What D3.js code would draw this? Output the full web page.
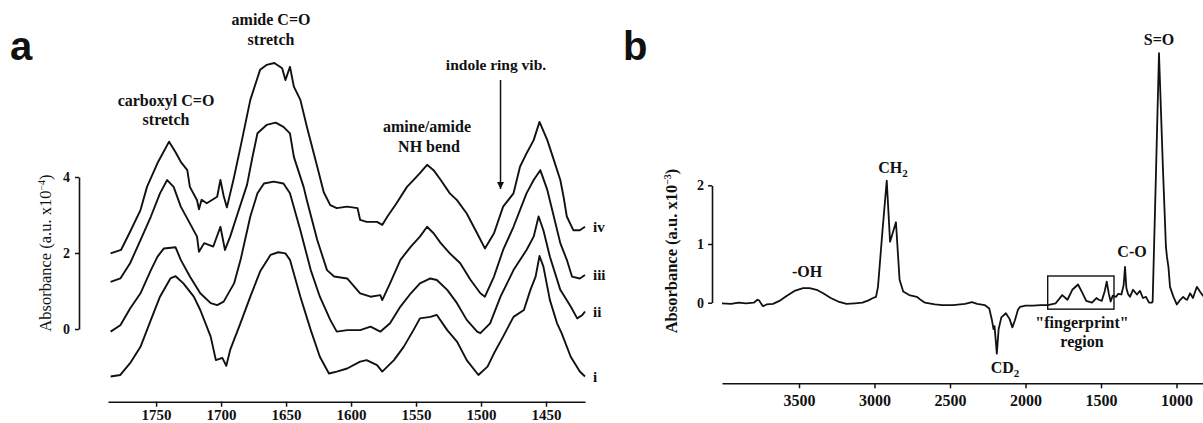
<!DOCTYPE html>
<html>
<head>
<meta charset="utf-8">
<script src="https://cdn.jsdelivr.net/npm/d3@7"></script>
<style>
body { margin: 0; background: #fff; }
svg text { font-family: "Liberation Serif", "Times New Roman", serif; fill: #111; }
</style>
</head>
<body>
<script>
// ---- panel a : four stacked spectra, [wavenumber, absorbance x1e-4 incl. offset]
var traceI = [[1785,-1.25],[1777.5,-1.21],[1770,-0.9],[1762,-0.47],[1754,0.24],[1747,0.85],[1739,1.33],[1735,1.39],[1729,1.2],[1721,0.85],[1716,0.5],[1708,-0.2],[1704,-0.82],[1699,-0.76],[1696,-0.97],[1693,-0.55],[1685,0.16],[1677.5,0.85],[1670,1.51],[1662,1.95],[1656,2.02],[1650.5,1.99],[1647,1.82],[1639,0.85],[1631,-0.03],[1624,-0.73],[1617,-1.17],[1611,-1.12],[1603,-1.04],[1593,-0.86],[1588,-0.82],[1580,-0.95],[1576,-1.12],[1567,-0.82],[1559.5,-0.47],[1552,-0.03],[1547,0.28],[1539,0.32],[1534,0.37],[1526,-0.03],[1518.5,-0.33],[1511,-0.82],[1502,-1.21],[1495,-0.99],[1490,-0.64],[1483,-0.2],[1475,0.32],[1467,0.5],[1462,1.03],[1458,1.38],[1455,1.92],[1452,1.64],[1447,0.76],[1441.5,0.15],[1438,-0.11],[1431,-0.73],[1424,-1.12],[1420,-1.25]];
var traceII = [[1785,-0.07],[1777.5,0.1],[1770,0.54],[1762,0.94],[1754,1.55],[1749,1.9],[1744,2.12],[1735,2.15],[1731,1.82],[1724,1.38],[1716,0.94],[1708,0.68],[1703,0.63],[1698,0.72],[1690,1.2],[1685,1.82],[1677.5,2.96],[1672,3.57],[1667,3.83],[1659.5,3.88],[1652,3.83],[1647,3.57],[1639,2.6],[1631,1.55],[1624,0.85],[1616,0.24],[1611,-0.07],[1603,-0.03],[1593,-0.03],[1585,0.06],[1577.5,-0.07],[1570,0.15],[1562,0.59],[1554,0.94],[1547,1.2],[1539,1.33],[1534,1.29],[1526,1.03],[1518.5,0.68],[1511,0.24],[1503,-0.07],[1500.5,-0.11],[1493,0.15],[1485,0.85],[1475,1.55],[1465,2.08],[1459.5,2.43],[1455.7,2.96],[1452,2.6],[1447,1.9],[1439,1.03],[1431,0.59],[1426,0.28],[1422,0.37],[1420,0.46]];
var traceIII = [[1785,1.24],[1777.5,1.33],[1770,1.73],[1762,2.34],[1754,2.96],[1747,3.57],[1741.5,3.92],[1736.5,3.74],[1731,3.22],[1724,2.78],[1718.5,2.43],[1717,2.03],[1713,2.26],[1706,2.17],[1700.5,2.69],[1697,2.08],[1693,2.43],[1688,2.96],[1680,3.8],[1676,4.5],[1672,5.15],[1665,5.37],[1658,5.43],[1652,5.32],[1647,5.15],[1644,4.53],[1636.5,3.74],[1634,3.39],[1626,2.34],[1618.5,1.55],[1613,1.38],[1603,1.33],[1593,0.94],[1585,0.85],[1577.5,0.89],[1576,0.76],[1570,1.2],[1562,1.82],[1554,2.17],[1547,2.43],[1541.5,2.69],[1536.5,2.52],[1531,2.26],[1524,1.99],[1516,1.73],[1508,1.29],[1500.5,0.94],[1497,0.85],[1490,1.38],[1483,2.08],[1475,2.69],[1465,3.57],[1459.5,3.92],[1454.4,4.18],[1449,3.66],[1444,2.96],[1439,2.26],[1434,1.82],[1430,1.38],[1424,1.33],[1420,1.42]];
var traceIV = [[1785,1.99],[1777,2.08],[1770,2.56],[1762,3.13],[1757,3.74],[1749,4.36],[1740,4.93],[1735,4.65],[1731,4.4],[1726,4.18],[1724,3.74],[1718.5,3.39],[1717,3.15],[1715,3.4],[1711,3.31],[1703,3.48],[1700.5,3.92],[1698,3.5],[1695.5,3.2],[1690,4.0],[1685,4.8],[1677.5,6.03],[1670,6.82],[1665,6.95],[1659,7.0],[1653,6.86],[1650.5,6.55],[1647,6.9],[1644,6.38],[1639,6.03],[1634,5.32],[1626,4.27],[1621,3.6],[1616,3.26],[1611,3.18],[1603,3.22],[1595,3.18],[1593,2.87],[1588,2.82],[1580,2.82],[1576,2.74],[1572,2.96],[1565,3.31],[1557,3.74],[1552,3.92],[1547,4.1],[1541.5,4.32],[1536.5,4.18],[1531,3.92],[1524,3.57],[1518.5,3.39],[1511,3.04],[1503,2.52],[1497,2.12],[1490,2.52],[1483,3.22],[1475,3.57],[1470,4.27],[1465,4.62],[1459.5,4.97],[1455,5.45],[1449,4.97],[1444,4.45],[1439,3.92],[1436.5,3.48],[1434,2.96],[1429,2.6],[1424,2.6],[1420,2.69]];
var traceNames = ["i", "ii", "iii", "iv"];
var ticksAx = [1750, 1700, 1650, 1600, 1550, 1500, 1450];
var ticksAy = [0, 2, 4];

// ---- panel b : single spectrum, [wavenumber, absorbance x1e-3]
var specB = [[4010,-0.01],[3950,-0.02],[3900,0.0],[3850,-0.01],[3800,0.0],[3775,0.05],[3765,0.04],[3750,-0.02],[3738,-0.06],[3715,-0.03],[3672,-0.02],[3630,0.03],[3580,0.12],[3530,0.2],[3473,0.25],[3430,0.25],[3383,0.22],[3340,0.16],[3290,0.08],[3240,0.02],[3185,-0.02],[3130,-0.01],[3080,0.0],[3040,0.04],[3010,0.08],[2990,0.1],[2977,0.27],[2948,1.2],[2919,2.08],[2897,1.04],[2858,1.37],[2834,0.39],[2810,0.19],[2770,0.13],[2720,0.1],[2690,0.04],[2666,0.0],[2600,-0.03],[2550,-0.04],[2480,-0.04],[2400,-0.02],[2355,0.01],[2320,-0.02],[2270,-0.04],[2240,-0.1],[2222,-0.3],[2212,-0.45],[2205,-0.4],[2190,-0.87],[2178,-0.45],[2160,-0.25],[2130,-0.18],[2105,-0.28],[2087,-0.42],[2070,-0.3],[2050,-0.12],[2036,-0.07],[2000,-0.05],[1950,-0.05],[1900,-0.04],[1853,-0.04],[1800,-0.01],[1757,0.13],[1722,0.05],[1690,0.22],[1652,0.31],[1620,0.15],[1598,0.03],[1560,0.0],[1530,0.08],[1515,0.05],[1495,0.03],[1475,0.2],[1462,0.36],[1448,0.15],[1436,0.02],[1422,0.12],[1400,0.1],[1387,0.15],[1365,0.14],[1350,0.3],[1341,0.61],[1332,0.25],[1321,0.15],[1308,0.1],[1288,0.22],[1262,0.14],[1242,0.2],[1222,0.08],[1202,0.1],[1182,0.0],[1162,0.0],[1158,0.02],[1136,2.2],[1116,4.25],[1090,2.3],[1070,0.95],[1063,0.78],[1053,0.6],[1043,0.27],[1020,0.1],[998,-0.03],[975,0.05],[956,0.1],[940,0.06],[930,0.05],[910,0.16],[891,0.08],[875,0.2],[865,0.27],[845,0.19],[825,0.12],[805,0.1]];
var fingerprintBox = {from: 1853, to: 1414, top: 0.455, bottom: -0.11};
var ticksBx = [3500, 3000, 2500, 2000, 1500, 1000];
var ticksBy = [0, 1, 2];

var svg = d3.select("body").append("svg")
    .attr("width", 1203)
    .attr("height", 423);

// ===== panel a =====
var xA = d3.scaleLinear().domain([1787, 1420]).range([108, 585]);
var yA = d3.scaleLinear().domain([0, 4]).range([329, 177]);

var lineA = d3.line()
    .x(function (d) { return xA(d[0]); })
    .y(function (d) { return yA(d[1]); });

var tracesA = [traceI, traceII, traceIII, traceIV];
svg.append("g").selectAll("path")
    .data(tracesA)
    .enter()
    .append("path")
    .attr("d", lineA)
    .attr("fill", "none")
    .attr("stroke", "#111")
    .attr("stroke-width", 1.9)
    .attr("stroke-linejoin", "round");

// labels i..iv at the right end of each trace
svg.append("g").selectAll("text")
    .data(tracesA)
    .enter()
    .append("text")
    .attr("x", function (d) { return xA(d[d.length - 1][0]) + 8; })
    .attr("y", function (d) { return yA(d[d.length - 1][1]) + 5; })
    .attr("font-size", 15)
    .attr("font-weight", "bold")
    .text(function (d, i) { return traceNames[i]; });

var axAx = svg.append("g")
    .attr("transform", "translate(0,401.7)")
    .call(d3.axisBottom(xA).tickValues(ticksAx).tickFormat(d3.format("d"))
        .tickSize(5).tickSizeOuter(0).tickPadding(3));
var axAy = svg.append("g")
    .attr("transform", "translate(79,0)")
    .call(d3.axisLeft(yA).tickValues(ticksAy).tickFormat(d3.format("d"))
        .tickSize(4).tickSizeOuter(0).tickPadding(5));

// ===== panel b =====
var xB = d3.scaleLinear().domain([4010, 800]).range([722, 1206.7]);
var yB = d3.scaleLinear().domain([0, 2]).range([302.7, 185.3]);

var lineB = d3.line()
    .x(function (d) { return xB(d[0]); })
    .y(function (d) { return yB(d[1]); });

svg.append("path")
    .datum(specB)
    .attr("d", lineB)
    .attr("fill", "none")
    .attr("stroke", "#111")
    .attr("stroke-width", 1.8)
    .attr("stroke-linejoin", "round");

svg.append("rect")
    .attr("x", xB(fingerprintBox.from))
    .attr("y", yB(fingerprintBox.top))
    .attr("width", xB(fingerprintBox.to) - xB(fingerprintBox.from))
    .attr("height", yB(fingerprintBox.bottom) - yB(fingerprintBox.top))
    .attr("fill", "none")
    .attr("stroke", "#111")
    .attr("stroke-width", 1.4);

var axBx = svg.append("g")
    .attr("transform", "translate(0,383.3)")
    .call(d3.axisBottom(xB).tickValues(ticksBx).tickFormat(d3.format("d"))
        .tickSize(5).tickSizeOuter(0).tickPadding(6));
var axBy = svg.append("g")
    .attr("transform", "translate(712,0)")
    .call(d3.axisLeft(yB).tickValues(ticksBy).tickFormat(d3.format("d"))
        .tickSize(4).tickSizeOuter(0).tickPadding(4));

// axis styling
[axAx, axAy, axBx, axBy].forEach(function (g) {
    g.select(".domain").attr("stroke", "#111").attr("stroke-width", 1.6);
    g.selectAll(".tick line").attr("stroke", "#111").attr("stroke-width", 1.5);
    g.selectAll(".tick text")
        .attr("font-family", "Liberation Serif, Times New Roman, serif")
        .attr("font-weight", "bold")
        .attr("fill", "#111");
});
axAx.selectAll(".tick text").attr("font-size", 15);
axAy.selectAll(".tick text").attr("font-size", 14);
axBx.selectAll(".tick text").attr("font-size", 16);
axBy.selectAll(".tick text").attr("font-size", 14);

// y axis titles with superscript
function yTitle(x, y, exp, weight) {
    var t = svg.append("text")
        .attr("transform", "translate(" + x + "," + y + ") rotate(-90)")
        .attr("text-anchor", "middle")
        .attr("font-size", 16.5)
        .attr("font-weight", weight);
    t.append("tspan").text("Absorbance (a.u. x10");
    t.append("tspan").attr("dy", -6).attr("font-size", 10).text(exp);
    t.append("tspan").attr("dy", 6).text(")");
}
yTitle(51, 253, "\u22124", "normal");
yTitle(677, 251, "\u22123", "bold");

// panel letters
svg.append("text").attr("x", 10).attr("y", 60)
    .attr("font-size", 40).attr("font-weight", "bold")
    .style("font-family", "Liberation Sans, Arial, sans-serif")
    .text("a");
svg.append("text").attr("x", 623).attr("y", 60)
    .attr("font-size", 40).attr("font-weight", "bold")
    .style("font-family", "Liberation Sans, Arial, sans-serif")
    .text("b");

// annotations
function note(x, y, txt, size) {
    return svg.append("text")
        .attr("x", x).attr("y", y)
        .attr("text-anchor", "middle")
        .attr("font-size", size)
        .attr("font-weight", "bold")
        .text(txt);
}
note(166, 106, "carboxyl C=O", 16);
note(166, 125, "stretch", 16);
note(271, 25, "amide C=O", 16);
note(271, 45, "stretch", 16);
note(496, 70, "indole ring vib.", 15.5);
note(427, 132, "amine/amide", 16);
note(429, 152, "NH bend", 16);

note(807, 277, "-OH", 16);
note(1159, 45, "S=O", 16);
note(1132, 257, "C-O", 16);
note(1082, 328, "\"fingerprint\"", 16);
note(1082, 347, "region", 16);
var ch2 = note(893, 173, "CH", 16);
ch2.append("tspan").attr("dy", 4).attr("font-size", 11).text("2");
var cd2 = note(1005, 373, "CD", 16);
cd2.append("tspan").attr("dy", 4).attr("font-size", 11).text("2");

// arrow to the indole band
svg.append("defs").append("marker")
    .attr("id", "head")
    .attr("viewBox", "0 0 10 10")
    .attr("refX", 10).attr("refY", 5)
    .attr("markerWidth", 9).attr("markerHeight", 7)
    .attr("markerUnits", "userSpaceOnUse")
    .attr("orient", "auto")
    .append("path").attr("d", "M0,0 L10,5 L0,10 Z").attr("fill", "#111");
svg.append("line")
    .attr("x1", xA(1485)).attr("x2", xA(1485))
    .attr("y1", 80).attr("y2", 189)
    .attr("stroke", "#111").attr("stroke-width", 1.5)
    .attr("marker-end", "url(#head)");
</script>
</body>
</html>
